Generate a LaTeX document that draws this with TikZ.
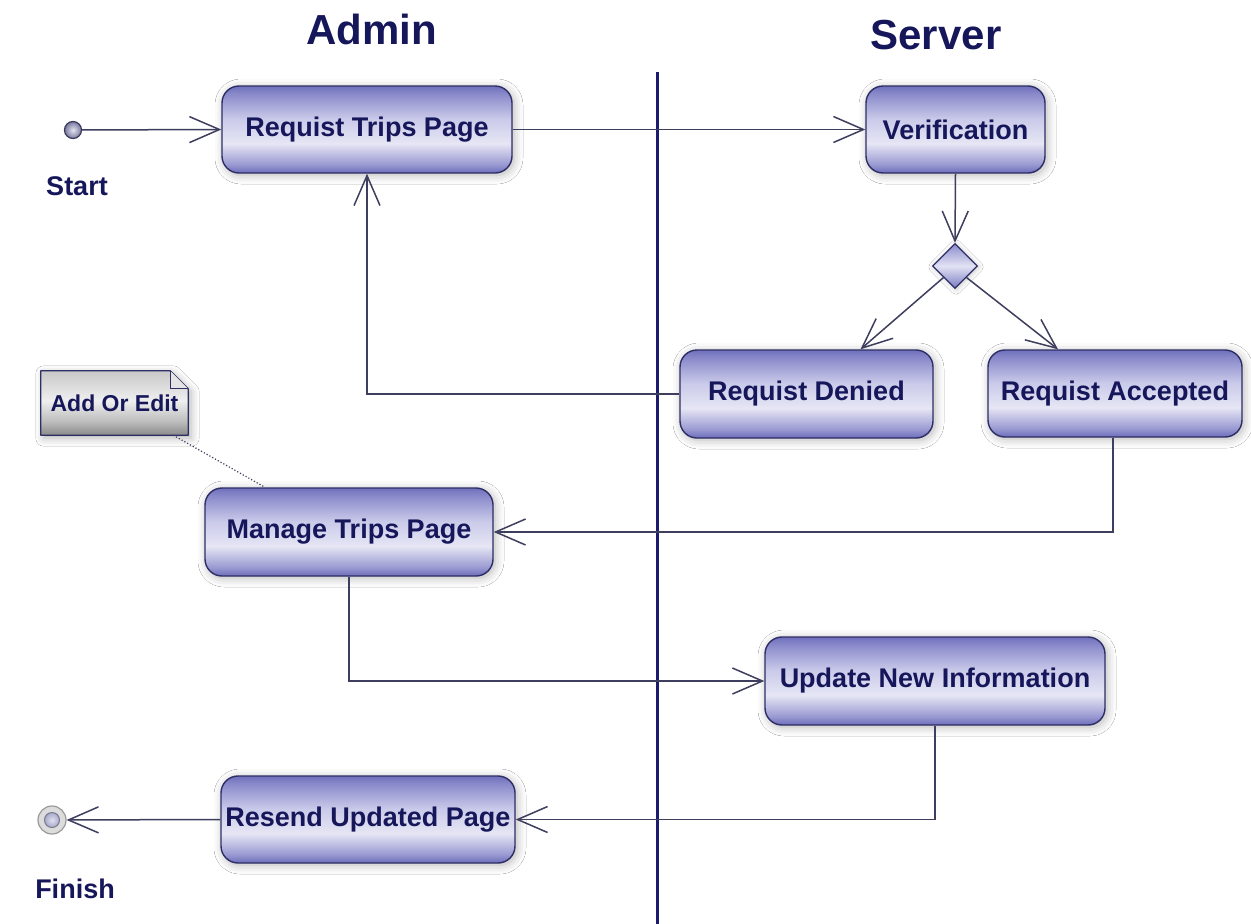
\documentclass[tikz,border=0pt]{standalone}
\usepackage{fontspec}
\setmainfont{Liberation Sans}
\usetikzlibrary{arrows.meta,shapes.geometric,shadows.blur,calc}

\definecolor{ink}{HTML}{16165A}
\definecolor{edgec}{HTML}{2E2E66}
\definecolor{wire}{HTML}{3E3E5E}
\definecolor{lanec}{HTML}{1C1C6E}
% box shading stops
\definecolor{bxA}{HTML}{6C6CBA}
\definecolor{bxB}{HTML}{9A9AD2}
\definecolor{bxC}{HTML}{E6E6F5}
\definecolor{bxD}{HTML}{CACAEA}
\definecolor{bxE}{HTML}{8C8CCC}
\definecolor{bxF}{HTML}{7070BC}
% note shading stops
\definecolor{ntA}{HTML}{8A8A8A}
\definecolor{ntB}{HTML}{BEBEBE}
\definecolor{ntC}{HTML}{EFEFEF}
\definecolor{ntD}{HTML}{C8C8C8}
\definecolor{ntfold}{HTML}{E4E4E4}
% decision and end points
\definecolor{dmTop}{HTML}{8C8CCC}
\definecolor{dmMid}{HTML}{E2E2F4}
\definecolor{dmBot}{HTML}{7A7AC2}
\definecolor{stEdge}{HTML}{3A3A5A}
\definecolor{stIn}{HTML}{E4E4F0}
\definecolor{stOut}{HTML}{7878A0}
\definecolor{ringEdge}{HTML}{9A9A9A}
\definecolor{ringFill}{HTML}{DCDCDC}
\definecolor{coreEdge}{HTML}{7A7A8A}
\definecolor{coreIn}{HTML}{E0E0F0}
\definecolor{coreOut}{HTML}{A8A8CC}

% activity boxes: violet at the rims, pale lavender band below the middle
\pgfdeclareverticalshading{boxshade}{100bp}{%
  color(0bp)=(bxA); color(25bp)=(bxA); color(30bp)=(bxB);
  color(42bp)=(bxC); color(56bp)=(bxD); color(70bp)=(bxE);
  color(75bp)=(bxF); color(100bp)=(bxF)}
% grey note sheet
\pgfdeclareverticalshading{noteshade}{100bp}{%
  color(0bp)=(ntA); color(25bp)=(ntA); color(36bp)=(ntB);
  color(52bp)=(ntC); color(75bp)=(ntD); color(100bp)=(ntD)}

\tikzset{
  x=1pt, y=-1pt,
  act/.style={rectangle, rounded corners=17pt, draw=edgec, line width=1.4pt,
    shading=boxshade, text=ink, inner sep=0pt,
    font=\fontsize{27}{30}\selectfont\bfseries,
    blur shadow={shadow xshift=2pt, shadow yshift=-2pt, shadow blur radius=9pt, shadow opacity=30}},
  title/.style={text=ink, font=\fontsize{42}{46}\selectfont\bfseries, anchor=base},
  lbl/.style={text=ink, font=\fontsize{27}{30}\selectfont\bfseries, anchor=base},
  flow/.style={draw=wire, line width=1.5pt,
    -{Straight Barb[length=30pt, width=26pt, line width=1.5pt]}},
  decision/.style={diamond, aspect=1, minimum width=45pt, minimum height=45pt, inner sep=0pt,
    draw=edgec, line width=1.3pt, top color=dmTop, bottom color=dmBot, middle color=dmMid,
    blur shadow={shadow xshift=1pt, shadow yshift=-1pt, shadow blur radius=5pt, shadow opacity=25}},
  startdot/.style={circle, minimum size=17pt, inner sep=0pt, draw=stEdge, line width=1.2pt,
    inner color=stIn, outer color=stOut},
  endring/.style={circle, minimum size=28pt, inner sep=0pt, draw=ringEdge, line width=1.2pt,
    fill=ringFill},
  endcore/.style={circle, minimum size=15pt, inner sep=0pt, draw=coreEdge, line width=1pt,
    inner color=coreIn, outer color=coreOut},
}

\begin{document}
\begin{tikzpicture}
\useasboundingbox (0,0) rectangle (1251,924);
\fill[white] (0,0) rectangle (1251,924);

% swimlane headings and divider
\node[title] (admin) at (372,44) {Admin};
\node[title] (server) at (936,49) {Server};
\coordinate (laneTop) at (657.5,72);
\coordinate (laneBot) at (657.5,924);
\draw[lanec, line width=3.6pt] (laneTop) -- (laneBot);

% initial and final states
\node[startdot] (start) at (73,130) {};
\node[lbl] (startlbl) at (77,195) {Start};
\node[endring] (finish) at (52,820) {};
\node[endcore] (finishcore) at (finish) {};
\node[lbl] (finishlbl) at (75,898) {Finish};

% activities
\node[act, minimum width=290pt, minimum height=87pt] (req) at (367,129.5) {Requist Trips Page};
\node[act, minimum width=179pt, minimum height=87pt] (verif) at (955.5,129.5) {Verification};
\node[decision] (dec) at (955,266) {};
\node[act, minimum width=253pt, minimum height=88pt] (denied) at (806.5,394) {Requist Denied};
\node[act, minimum width=254pt, minimum height=87pt] (accepted) at (1115,393.5) {Requist Accepted};
\node[act, minimum width=288pt, minimum height=88pt] (manage) at (349,532) {Manage Trips Page};
\node[act, minimum width=340pt, minimum height=88pt] (update) at (935,681) {Update New Information};
\node[act, minimum width=294pt, minimum height=87pt] (resend) at (368,819.5) {Resend Updated Page};

% note sheet with a folded corner
\node[minimum width=147pt, minimum height=64pt, inner sep=0pt] (note) at (114.5,403) {};
\path[blur shadow={shadow xshift=3pt, shadow yshift=-3pt, shadow blur radius=8pt, shadow opacity=30},
  shading=noteshade, draw=edgec, line width=1.3pt, line join=round]
  (note.south west) -- (note.north west) -- ([xshift=-18pt]note.north east)
  -- ([yshift=-18pt]note.north east) -- (note.south east) -- cycle;
\draw[edgec, line width=1pt, fill=ntfold] ([xshift=-18pt]note.north east)
  -- ([xshift=-18pt, yshift=-18pt]note.north east) -- ([yshift=-18pt]note.north east);
\node[inner sep=0pt, text=ink, font=\fontsize{23}{26}\selectfont\bfseries] (notetext) at (note) {Add Or Edit};
\draw[wire, line width=1.2pt, dotted] ([xshift=-15pt]note.south east) -- ([xshift=-84pt]manage.north);

% control flow
\draw[flow] (start) -- (req.west);
\draw[flow] (req.east) -- (verif.west);
\draw[flow] (verif.south) -- (dec.north);
\draw[flow] (dec.south west) -- ([xshift=54pt]denied.north);
\draw[flow] (dec.south east) -- ([xshift=-57pt]accepted.north);
\draw[flow] (denied.west) -| (req.south);
\draw[flow] ([xshift=-2pt]accepted.south) |- (manage.east);
\draw[flow] (manage.south) |- (update.west);
\draw[flow] (update.south) |- (resend.east);
\draw[flow] (resend.west) -- (finish);
\end{tikzpicture}
\end{document}
